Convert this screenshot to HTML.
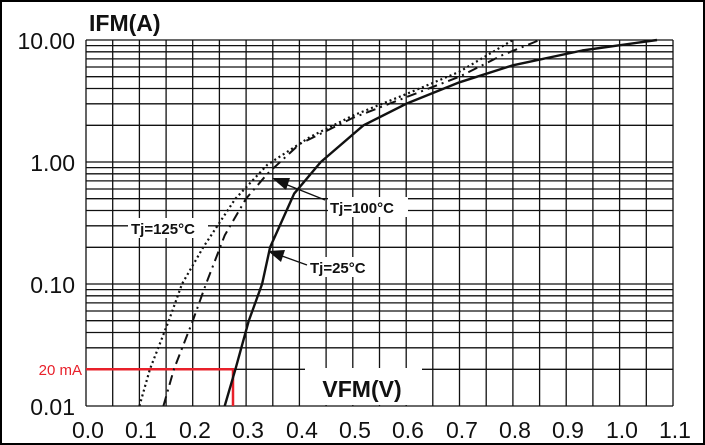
<!DOCTYPE html>
<html><head><meta charset="utf-8"><style>
html,body{margin:0;padding:0;background:#fff}
svg{display:block}
text{font-family:"Liberation Sans",Arial,sans-serif}
</style></head><body>
<svg width="705" height="445" viewBox="0 0 705 445" xmlns="http://www.w3.org/2000/svg">
<rect x="1" y="1" width="703" height="443" fill="#fff" stroke="#000" stroke-width="2"/>
<g stroke="#111" stroke-width="1.3" fill="none">
<path d="M86 40V406M112.7 40V406M139.4 40V406M166.1 40V406M192.7 40V406M219.4 40V406M246.1 40V406M272.8 40V406M299.4 40V406M326.1 40V406M352.8 40V406M379.5 40V406M406.2 40V406M432.8 40V406M459.5 40V406M486.2 40V406M512.9 40V406M539.6 40V406M566.2 40V406M592.9 40V406M619.6 40V406M646.3 40V406M673 40V406"/>
<path d="M86 40H673M86 45.6H673M86 51.8H673M86 58.9H673M86 67H673M86 76.7H673M86 88.5H673M86 103.8H673M86 125.3H673
M86 162H673M86 167.6H673M86 173.8H673M86 180.9H673M86 189H673M86 198.7H673M86 210.5H673M86 225.8H673M86 247.3H673
M86 284H673M86 289.6H673M86 295.8H673M86 302.9H673M86 311H673M86 320.7H673M86 332.5H673M86 347.8H673M86 369.3H673M86 406H673"/>
</g>
<rect x="305" y="368" width="117" height="37" fill="#fff"/>
<text x="362" y="397" font-size="23" font-weight="bold" text-anchor="middle" fill="#111">VFM(V)</text>
<path d="M86 369.3H233V406" stroke="#e8202a" stroke-width="2.5" fill="none"/>
<text x="82" y="375" font-size="15" fill="#e8202a" text-anchor="end">20 mA</text>
<polyline fill="none" stroke="#111" stroke-width="2.4" stroke-linejoin="round" points="224.7,406 235.4,369.3 248.7,321 262.1,284 270.1,247.3 283.4,217.6 294.1,193.7 320.8,162 363.5,125.3 406.2,103.8 459.5,82.3 512.9,65.3 582.2,50.5 657,40"/>
<polyline fill="none" stroke="#111" stroke-width="2" stroke-dasharray="10,5,2,5" points="163.4,406 174,369 192.7,321 206,284 224.7,235.4 246,198.7 267.4,173.8 299.4,144.2 352.8,117.9 406.2,97.2 459.5,76.7 502.2,55.2 539.6,40"/>
<polyline fill="none" stroke="#111" stroke-width="2.2" stroke-dasharray="2,3" points="139.4,406 150,369 168.7,321 182,284 203.4,247 235.4,198.7 267.4,164.7 310,137 352.8,115.6 406.2,94.1 459.5,71.7 512.9,40"/>
<rect x="128" y="218" width="80" height="20" fill="#fff"/>
<text x="131" y="234" font-size="15" font-weight="bold" fill="#111">Tj=125°C</text>
<rect x="328" y="197" width="80" height="20" fill="#fff"/>
<text x="330" y="213" font-size="15" font-weight="bold" fill="#111">Tj=100°C</text>
<rect x="308" y="257" width="70" height="20" fill="#fff"/>
<text x="310" y="273" font-size="15" font-weight="bold" fill="#111">Tj=25°C</text>
<path d="M325 200L285 184" stroke="#111" stroke-width="1.3"/>
<polygon points="272,178 290,178 286,190" fill="#111"/>
<path d="M307 265L282 256" stroke="#111" stroke-width="1.3"/>
<polygon points="268,251 285,250 281,262" fill="#111"/>
<text x="89" y="31" font-size="23" font-weight="bold" fill="#111">IFM(A)</text>
<g font-size="23" fill="#111" text-anchor="end">
<text x="75" y="49">10.00</text>
<text x="75" y="171">1.00</text>
<text x="75" y="293">0.10</text>
<text x="75" y="415">0.01</text>
</g>
<g font-size="23" fill="#111" text-anchor="middle">
<text x="88" y="438">0.0</text><text x="141" y="438">0.1</text><text x="195" y="438">0.2</text><text x="248" y="438">0.3</text><text x="302" y="438">0.4</text><text x="355" y="438">0.5</text><text x="408" y="438">0.6</text><text x="462" y="438">0.7</text><text x="515" y="438">0.8</text><text x="568" y="438">0.9</text><text x="622" y="438">1.0</text><text x="675" y="438">1.1</text>
</g>
</svg>
</body></html>
